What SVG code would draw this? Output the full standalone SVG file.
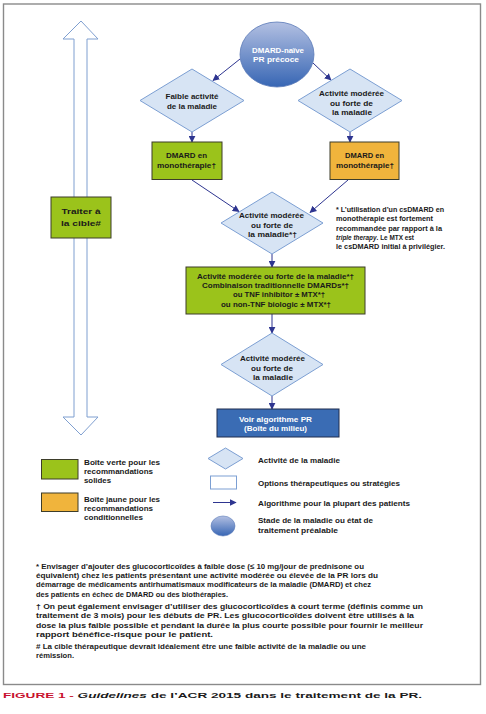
<svg xmlns="http://www.w3.org/2000/svg" width="486" height="714" viewBox="0 0 486 714">
<style>
.t{font-family:"Liberation Sans",Arial,sans-serif;font-weight:bold;fill:#1a1a1a;font-size:8px}
.c{text-anchor:middle}
.w{fill:#ffffff}
.s{font-size:7.5px}
.n{font-size:6.6px}
.dia{fill:#d7e4f4;stroke:#7c9fd3;stroke-width:1}
.con{stroke:#2e3590;stroke-width:1;fill:none;marker-end:url(#ah)}
.green{fill:#9bc31b;stroke:#3d3d2a;stroke-width:1}
.orange{fill:#f0b43c;stroke:#3d3d2a;stroke-width:1}
</style>
<defs>
<marker id="ah" viewBox="0 0 10 10" refX="9" refY="5" markerWidth="7" markerHeight="7" markerUnits="userSpaceOnUse" orient="auto">
<path d="M0,0 L10,5 L0,10 z" fill="#2e3590"/>
</marker>
<linearGradient id="eg" x1="0" y1="0" x2="0" y2="1">
<stop offset="0" stop-color="#b3c0e2"/>
<stop offset="1" stop-color="#3766b4"/>
</linearGradient>
</defs>
<rect x="0" y="0" width="486" height="714" fill="#ffffff"/>
<rect x="3.5" y="4" width="477" height="680.5" fill="#ffffff" stroke="#8a8a8a" stroke-width="1.4"/>

<g id="cycle-arrow">
<polygon points="81,21 98,39 87,39 87,417 98,417 81,435 63,417 74,417 74,39 63,39" fill="#ffffff" stroke="#7f9fd0" stroke-width="1"/>
</g>

<g id="connectors">
<line class="con" x1="240" y1="59" x2="213" y2="80.5"/>
<line class="con" x1="313" y1="63" x2="331" y2="80"/>
<line class="con" x1="192" y1="132" x2="192" y2="142"/>
<line class="con" x1="350" y1="132" x2="350" y2="142"/>
<line class="con" x1="192" y1="180" x2="239" y2="211.5"/>
<line class="con" x1="348" y1="180" x2="310" y2="212.5"/>
<line class="con" x1="272" y1="254" x2="272" y2="267"/>
<line class="con" x1="272" y1="314" x2="272" y2="333"/>
<line class="con" x1="272" y1="396" x2="272" y2="409"/>
</g>

<g id="traiter">
<rect class="green" x="51" y="197" width="60" height="41"/>
<text class="t c" x="81" y="214" font-size="11" textLength="39" lengthAdjust="spacingAndGlyphs">Traiter à</text>
<text class="t c" x="81" y="226" font-size="11" textLength="40" lengthAdjust="spacingAndGlyphs">la cible#</text>
</g>

<g id="start">
<ellipse cx="277" cy="54.5" rx="37" ry="32.5" fill="url(#eg)" stroke="#5a7ab8" stroke-width="0.8"/>
<text class="t c w" x="278" y="52.5" font-size="9" textLength="52" lengthAdjust="spacingAndGlyphs">DMARD-naïve</text>
<text class="t c w" x="276" y="62" font-size="9" textLength="46" lengthAdjust="spacingAndGlyphs">PR précoce</text>
</g>

<g id="d-faible">
<polygon class="dia" points="192,69 244,100.5 192,132 140,100.5"/>
<text class="t c" x="192" y="99.3" textLength="53" lengthAdjust="spacingAndGlyphs">Faible activité</text>
<text class="t c" x="192" y="109.3" textLength="50" lengthAdjust="spacingAndGlyphs">de la maladie</text>
</g>

<g id="d-moderee1">
<polygon class="dia" points="350,69 402,100.5 350,132 298,100.5"/>
<text class="t c" x="351.5" y="96" textLength="65" lengthAdjust="spacingAndGlyphs">Activité modérée</text>
<text class="t c" x="351.5" y="105.5" textLength="43" lengthAdjust="spacingAndGlyphs">ou forte de</text>
<text class="t c" x="352" y="115" textLength="40" lengthAdjust="spacingAndGlyphs">la maladie</text>
</g>

<g id="mono-green">
<rect class="green" x="152" y="142" width="70" height="37.5"/>
<text class="t c" x="186.5" y="158.3" textLength="41" lengthAdjust="spacingAndGlyphs">DMARD en</text>
<text class="t c" x="186.5" y="168" textLength="59" lengthAdjust="spacingAndGlyphs">monothérapie†</text>
</g>

<g id="mono-orange">
<rect class="orange" x="330" y="142" width="69" height="37.5"/>
<text class="t c" x="364.5" y="158.3" textLength="39" lengthAdjust="spacingAndGlyphs">DMARD en</text>
<text class="t c" x="365" y="168" textLength="58" lengthAdjust="spacingAndGlyphs">monothérapie†</text>
</g>

<g id="d-moderee2">
<polygon class="dia" points="272,192 323,223 272,254 221,223"/>
<text class="t c" x="271.5" y="218.3" textLength="65" lengthAdjust="spacingAndGlyphs">Activité modérée</text>
<text class="t c" x="272" y="228.3" textLength="42" lengthAdjust="spacingAndGlyphs">ou forte de</text>
<text class="t c" x="272.5" y="236.7" textLength="49" lengthAdjust="spacingAndGlyphs">la maladie*†</text>
</g>

<g id="note-right">
<text class="t n" x="336" y="212" textLength="108" lengthAdjust="spacingAndGlyphs">* L’utilisation d’un csDMARD en</text>
<text class="t n" x="336" y="221.3" textLength="97" lengthAdjust="spacingAndGlyphs">monothérapie est fortement</text>
<text class="t n" x="336" y="230.6" textLength="106" lengthAdjust="spacingAndGlyphs">recommandée par rapport à la</text>
<text class="t n" x="336" y="240" textLength="78" lengthAdjust="spacingAndGlyphs"><tspan font-style="italic">triple therapy</tspan>. Le MTX est</text>
<text class="t n" x="336" y="249.2" textLength="109" lengthAdjust="spacingAndGlyphs">le csDMARD initial à privilégier.</text>
</g>

<g id="combo">
<rect class="green" x="186" y="267" width="179" height="47"/>
<text class="t c" x="275.5" y="279" textLength="157" lengthAdjust="spacingAndGlyphs">Activité modérée ou forte de la maladie*†</text>
<text class="t c" x="275.5" y="288" textLength="147" lengthAdjust="spacingAndGlyphs">Combinaison traditionnelle DMARDs*†</text>
<text class="t c" x="279" y="297" textLength="92" lengthAdjust="spacingAndGlyphs">ou TNF inhibitor ± MTX*†</text>
<text class="t c" x="276" y="306.5" textLength="110" lengthAdjust="spacingAndGlyphs">ou non-TNF biologic ± MTX*†</text>
</g>

<g id="d-moderee3">
<polygon class="dia" points="272,333 323,364.5 272,396 221,364.5"/>
<text class="t c" x="272.5" y="361" textLength="65" lengthAdjust="spacingAndGlyphs">Activité modérée</text>
<text class="t c" x="272" y="371" textLength="42" lengthAdjust="spacingAndGlyphs">ou forte de</text>
<text class="t c" x="273" y="379.7" textLength="40" lengthAdjust="spacingAndGlyphs">la maladie</text>
</g>

<g id="voir">
<rect x="217" y="409" width="122" height="28" fill="#3a6cb4" stroke="#1f2d4f" stroke-width="1"/>
<text class="t c w" x="275.5" y="421.7" textLength="73" lengthAdjust="spacingAndGlyphs">Voir algorithme PR</text>
<text class="t c w" x="275.5" y="430.5" textLength="63" lengthAdjust="spacingAndGlyphs">(Boîte du milieu)</text>
</g>

<g id="legend-green">
<rect class="green" x="41.5" y="459.5" width="36.5" height="19.5"/>
<text class="t s" x="84" y="465" textLength="76" lengthAdjust="spacingAndGlyphs">Boîte verte pour les</text>
<text class="t s" x="84" y="474" textLength="69" lengthAdjust="spacingAndGlyphs">recommandations</text>
<text class="t s" x="84" y="483" textLength="27" lengthAdjust="spacingAndGlyphs">solides</text>
</g>
<g id="legend-orange">
<rect class="orange" x="41.5" y="493" width="36.5" height="18.5"/>
<text class="t s" x="84" y="502" textLength="76" lengthAdjust="spacingAndGlyphs">Boîte jaune pour les</text>
<text class="t s" x="84" y="511" textLength="69" lengthAdjust="spacingAndGlyphs">recommandations</text>
<text class="t s" x="84" y="520" textLength="59" lengthAdjust="spacingAndGlyphs">conditionnelles</text>
</g>
<g id="legend-diamond">
<polygon class="dia" points="225.5,448 243,458.5 225.5,469 208,458.5"/>
<text class="t s" x="258" y="463" textLength="82" lengthAdjust="spacingAndGlyphs">Activité de la maladie</text>
</g>
<g id="legend-rect">
<rect x="210.5" y="476" width="26" height="13" fill="#ffffff" stroke="#7c9fd3" stroke-width="1"/>
<text class="t s" x="258" y="485.5" textLength="142" lengthAdjust="spacingAndGlyphs">Options thérapeutiques ou stratégies</text>
</g>
<g id="legend-arrow">
<line class="con" x1="213" y1="502.5" x2="236" y2="502.5"/>
<text class="t s" x="258" y="505.5" textLength="152" lengthAdjust="spacingAndGlyphs">Algorithme pour la plupart des patients</text>
</g>
<g id="legend-ellipse">
<ellipse cx="223" cy="526" rx="12" ry="10" fill="url(#eg)" stroke="#5a7ab8" stroke-width="0.6"/>
<text class="t s" x="258" y="523" textLength="115" lengthAdjust="spacingAndGlyphs">Stade de la maladie ou état de</text>
<text class="t s" x="258" y="532.5" textLength="80" lengthAdjust="spacingAndGlyphs">traitement préalable</text>
</g>

<g id="footnotes">
<text class="t s" x="36" y="569.3" textLength="328" lengthAdjust="spacingAndGlyphs">* Envisager d’ajouter des glucocorticoïdes à faible dose (≤ 10 mg/jour de prednisone ou</text>
<text class="t s" x="36" y="578.3" textLength="342" lengthAdjust="spacingAndGlyphs">équivalent) chez les patients présentant une activité modérée ou élevée de la PR lors du</text>
<text class="t s" x="36" y="587.3" textLength="335" lengthAdjust="spacingAndGlyphs">démarrage de médicaments antirhumatismaux modificateurs de la maladie (DMARD) et chez</text>
<text class="t s" x="36" y="596.5" textLength="192" lengthAdjust="spacingAndGlyphs">des patients en échec de DMARD ou des biothérapies.</text>
<text class="t s" x="36" y="609" textLength="387" lengthAdjust="spacingAndGlyphs">† On peut également envisager d’utiliser des glucocorticoïdes à court terme (définis comme un</text>
<text class="t s" x="36" y="618" textLength="378" lengthAdjust="spacingAndGlyphs">traitement de 3 mois) pour les débuts de PR. Les glucocorticoïdes doivent être utilisés à la</text>
<text class="t s" x="36" y="627.5" textLength="387" lengthAdjust="spacingAndGlyphs">dose la plus faible possible et pendant la durée la plus courte possible pour fournir le meilleur</text>
<text class="t s" x="36" y="636.5" textLength="177" lengthAdjust="spacingAndGlyphs">rapport bénéfice-risque pour le patient.</text>
<text class="t s" x="36" y="649" textLength="330" lengthAdjust="spacingAndGlyphs"># La cible thérapeutique devrait idéalement être une faible activité de la maladie ou une</text>
<text class="t s" x="36" y="658" textLength="38" lengthAdjust="spacingAndGlyphs">rémission.</text>
</g>

<g id="title">
<text class="t" x="3" y="698" font-size="13.5" textLength="419" lengthAdjust="spacingAndGlyphs" fill="#231f20"><tspan fill="#c8102e">FIGURE 1 - </tspan><tspan font-style="italic">Guidelines</tspan> de l’ACR 2015 dans le traitement de la PR.</text>
</g>
</svg>
